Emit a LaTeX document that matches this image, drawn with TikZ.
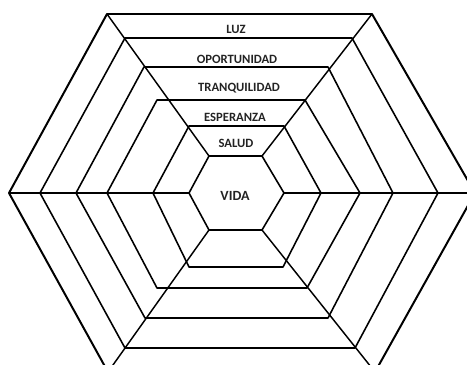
\documentclass[tikz,border=0pt]{standalone}
\usepackage{fontspec}
\setmainfont{Carlito}
\usepackage{xcolor}
\definecolor{LabelGray}{RGB}{35,35,35}
\tikzset{
  ring/.style={draw=black, line width=1.35pt, line join=round},
  outerring/.style={ring, line width=1.7pt},
  spoke/.style={draw=black, line width=1.25pt},
  band/.style={font=\bfseries\fontsize{10.8}{13}\selectfont, text=LabelGray,
    inner sep=0pt},
  core/.style={band, font=\bfseries\fontsize{12}{14}\selectfont}
}

\begin{document}
\begin{tikzpicture}[x=0.03cm, y=-0.03cm]
  \useasboundingbox (0,0) rectangle (467,365);
  \clip (0,0) rectangle (467,365);
  % hexagons: index/style/top/bottom/top-left/top-right/bottom-left/bottom-right/left/right
  \foreach \n/\s/\t/\b/\tl/\tr/\bl/\br/\l/\r in {
      1/outerring/14/372/107/372/108/375/9/475,
      2/ring/38/348/125/352/125/355/40/438,
      3/ring/67/318/144/328/145/328/76/393,
      4/ring/100/288/157/305/157/307/107/360,
      5/ring/126/267/189/284/189/283/153/321,
      6/ring/156/230/209/262/209/262/189/284}{
    \coordinate (h\n-tl) at (\tl,\t);
    \coordinate (h\n-tr) at (\tr,\t);
    \coordinate (h\n-r) at (\r,193);
    \coordinate (h\n-br) at (\br,\b);
    \coordinate (h\n-bl) at (\bl,\b);
    \coordinate (h\n-l) at (\l,193);
    \draw[\s] (h\n-tl) -- (h\n-tr) -- (h\n-r) -- (h\n-br) -- (h\n-bl) -- (h\n-l) -- cycle;
  }
  % spokes from outer to inner corners
  \foreach \c in {tl,tr,l,r,bl,br}
    \draw[spoke] (h1-\c) -- (h6-\c);
  % labels
  \node[band] (luz) at (236,29) {LUZ};
  \node[band] (oportunidad) at (237,59) {OPORTUNIDAD};
  \node[band] (tranquilidad) at (239,88) {TRANQUILIDAD};
  \node[band] (esperanza) at (235,117) {ESPERANZA};
  \node[band] (salud) at (236,143) {SALUD};
  \node[core] (vida) at (235,196) {VIDA};
\end{tikzpicture}
\end{document}
